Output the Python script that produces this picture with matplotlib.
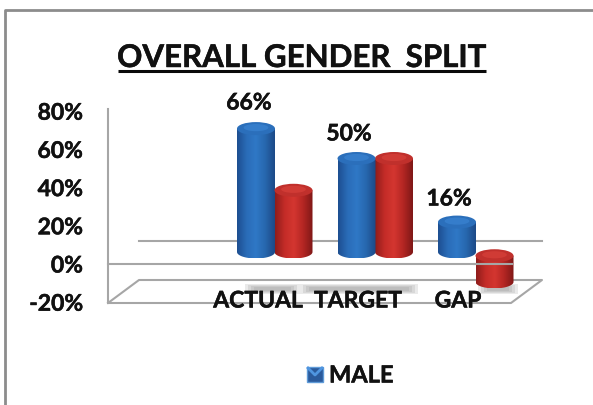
import numpy as np
import matplotlib
matplotlib.use("Agg")
import matplotlib.pyplot as plt
import matplotlib.patheffects as pe
from matplotlib.colors import LinearSegmentedColormap
from matplotlib.patches import Ellipse, PathPatch, Rectangle
from matplotlib.path import Path

categories = ["ACTUAL", "TARGET", "GAP"]
male = [66, 50, 16]
female = [33, 50, -16]
value_labels = ["66%", "50%", "16%"]
y_ticks = [80, 60, 40, 20, 0, -20]
y_tick_labels = ["80%", "60%", "40%", "20%", "0%", "-20%"]

W, H = 593, 405
GREY = "#a6a6a6"
INK = "#111111"
plt.rcParams["font.family"] = ["Lato", "DejaVu Sans"]
plt.rcParams["font.weight"] = "bold"
# the installed Lato comes out light, thicken the strokes a little
HEAVY = [pe.withStroke(linewidth=0.35, foreground=INK)]

fig = plt.figure(figsize=(W / 100, H / 100), dpi=100)


def full_axes(z):
    a = fig.add_axes([0, 0, 1, 1], zorder=z)
    a.axis("off")
    a.patch.set_alpha(0)
    return a


# background walls and floor, in pixels
bg = full_axes(0)
bg.set_xlim(0, W)
bg.set_ylim(H, 0)
bg.plot([5, 5, W], [H, 10, 10], color="#8c8c8c", lw=2)
bg.plot([108, 108, 511, 542, 139, 108], [109, 303, 303, 280, 280, 303], color=GREY, lw=1.5)
bg.plot([139, 542], [241, 241], color=GREY, lw=1.5)
bg.plot([108, 512], [264, 264], color=GREY, lw=1.5)

# soft shadows on the floor
for x0, x1 in [(245, 300), (300, 418), (478, 518)]:
    for k in range(4):
        bg.add_patch(Rectangle((x0 + k * 3, 284 + k), x1 - x0 - k * 6, 10 - k * 2,
                               facecolor="#808080", alpha=0.16, lw=0))

# cylinders, in data units: y is percent, x is category index
PX_Y = 1.87
PX_X = 100.5
BLUE_X0 = 256
ZERO_Y = 252
ax = full_axes(1)

blue_map = LinearSegmentedColormap.from_list("b", ["#1d4f91", "#2a6cb8", "#2f78c6", "#2767ae", "#1c4a88"])
red_map = LinearSegmentedColormap.from_list("r", ["#8f1d1b", "#c42c28", "#d43630", "#b32623", "#7f1817"])
grad = np.linspace(0, 1, 64).reshape(1, -1)


def cylinder(x, val, cmap, top_color, top_light):
    rx = 19 / PX_X
    ry = 6.5 / PX_Y
    # bars with negative values hang just below the zero plane
    hi = max(val, -2)
    lo = min(val, 0)
    t = np.linspace(np.pi, 2 * np.pi, 40)
    xs = np.r_[x - rx, x + rx * np.cos(t), x + rx, x - rx]
    ys = np.r_[hi, lo + ry * np.sin(t), hi, hi]
    path = Path(np.c_[xs, ys])
    im = ax.imshow(grad, cmap=cmap, extent=[x - rx, x + rx, lo - ry, hi], aspect="auto", zorder=3)
    im.set_clip_path(PathPatch(path, transform=ax.transData))
    ax.add_patch(Ellipse((x, hi), 2 * rx, 2 * ry, facecolor=top_color, edgecolor="none", zorder=4))
    ax.add_patch(Ellipse((x, hi + ry * 0.15), 1.3 * rx, 1.1 * ry, facecolor=top_light, edgecolor="none",
                         alpha=0.7, zorder=5))


width_offset = 37.5 / PX_X
for i in range(len(categories)):
    cylinder(i + width_offset, female[i], red_map, "#c0302c", "#d8403a")
    cylinder(i, male[i], blue_map, "#2b6fbb", "#3a84d2")
ax.set_xlim(-BLUE_X0 / PX_X, (W - BLUE_X0) / PX_X)
ax.set_ylim(-(H - ZERO_Y) / PX_Y, ZERO_Y / PX_Y)

# text and anything over the cylinders, in pixels
fg = full_axes(2)
fg.set_xlim(0, W)
fg.set_ylim(H, 0)
fg.plot([474, 512], [264, 264], color=GREY, lw=1.5)


def label(x, y, s, size, ha="center"):
    t = fg.text(x, y, s, ha=ha, va="center", fontsize=size, color=INK)
    t.set_path_effects(HEAVY)
    return t


label(302, 58, "OVERALL GENDER  SPLIT", 22.5)
fg.plot([118, 486], [71, 71], color="#0a0a0a", lw=2.2, solid_capstyle="butt")

for v, lab in zip(y_ticks, y_tick_labels):
    label(83, 266 - v * 1.91, lab, 16.5, ha="right")

for i, lab in enumerate(value_labels):
    label(249 + 100 * i, [103, 134, 199][i], lab, 16.5)

for i, lab in enumerate(categories):
    label(258 + 100 * i, 301, lab, 16.5)

fg.add_patch(Rectangle((307, 367), 16, 15, facecolor="#2a5a9c", edgecolor="#5f9bd8", lw=1))
fg.plot([308, 315, 322], [368, 375, 368], color="#4f95e0", lw=2)
label(329, 375, "MALE", 17, ha="left")

fig.savefig("out.png", dpi=100)
